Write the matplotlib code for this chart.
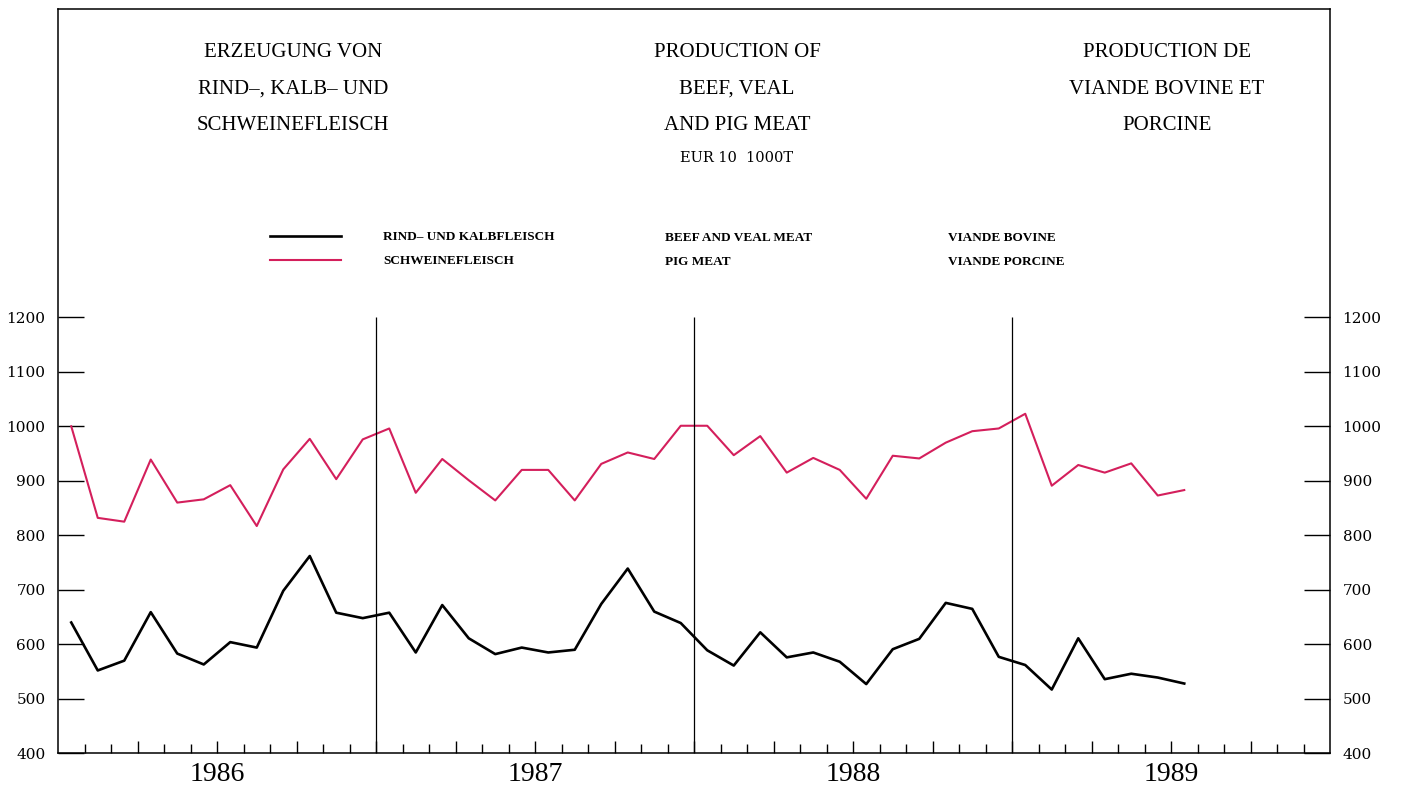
import numpy as np
import matplotlib
matplotlib.use("Agg")
import matplotlib.pyplot as plt
from matplotlib.lines import Line2D

# monthly production, EUR 10, 1000 t (Jan 1986 - Jul 1989)
pig_meat = [1000, 832, 825, 939, 860, 866, 892, 817, 921, 977, 903, 976,
            996, 878, 940, 901, 864, 920, 920, 864, 931, 952, 940, 1001,
            1001, 947, 982, 915, 942, 920, 867, 946, 941, 970, 991, 996,
            1023, 891, 929, 915, 932, 873, 883]
beef_veal = [640, 552, 570, 659, 583, 563, 604, 594, 698, 762, 658, 648,
             658, 585, 672, 611, 582, 594, 585, 590, 674, 739, 660, 639,
             589, 561, 622, 576, 585, 568, 527, 591, 610, 676, 665, 577,
             562, 517, 611, 536, 546, 539, 528]
years = ["1986", "1987", "1988", "1989"]
y_ticks = [400, 500, 600, 700, 800, 900, 1000, 1100, 1200]

pink = "#d41f5c"
W, H = 1403, 791

fig = plt.figure(figsize=(W / 100, H / 100), dpi=100)
ax = fig.add_axes([58 / W, 1 - 753.3 / H, (1330 - 58) / W, (753.3 - 9) / H])

months = np.arange(len(pig_meat)) + 0.5
ax.plot(months, beef_veal, color="black", lw=1.9)
ax.plot(months, pig_meat, color=pink, lw=1.5)

nmonths = 12 * len(years)
ax.set_xlim(0, nmonths)
ax.set_ylim(400, 1200 + (317.3 - 9) / 0.545)

# year separators
ax.vlines([12 * k for k in range(1, len(years))], 400, 1200, color="black", lw=0.9)

for s in ax.spines.values():
    s.set_linewidth(1.1)

ax.set_yticks(y_ticks)
ax.set_yticklabels([str(v) for v in y_ticks])
ax.tick_params(axis="y", direction="in", length=18.5, width=1.0, left=True, right=True,
               labelleft=True, labelright=True, pad=9, labelsize=11)
for lab in ax.get_yticklabels():
    lab.set_family("DejaVu Serif")

ax.set_xticks([q for q in range(3, nmonths, 3)])
ax.set_xticks(list(range(1, nmonths)), minor=True)
ax.set_xticklabels([])
ax.tick_params(axis="x", which="major", direction="in", length=9, width=1.0)
ax.tick_params(axis="x", which="minor", direction="in", length=6.2, width=1.0)

sec = ax.secondary_xaxis("bottom")
sec.set_xticks([12 * k + 6 for k in range(len(years))])
sec.set_xticklabels(years, family="Liberation Serif", fontsize=20)
sec.tick_params(length=0, pad=6)
sec.spines["bottom"].set_visible(False)

# titles
title_font = dict(family="Liberation Serif", fontsize=15, ha="center", va="baseline")
cols = [
    (293, ["ERZEUGUNG VON", "RIND\u2013, KALB\u2013 UND", "SCHWEINEFLEISCH"]),
    (737, ["PRODUCTION OF", "BEEF, VEAL", "AND PIG MEAT"]),
    (1167, ["PRODUCTION DE", "VIANDE BOVINE ET", "PORCINE"]),
]
baselines = [57, 93.5, 129.5]
for x, lines in cols:
    for yb, txt in zip(baselines, lines):
        fig.text(x / W, 1 - yb / H, txt, **title_font)
fig.text(737 / W, 1 - 162 / H, "EUR 10  1000T", family="DejaVu Serif", fontsize=10.5,
         ha="center", va="baseline")

# legend
leg_font = dict(family="Liberation Serif", weight="bold", size=9.5)
handles = [Line2D([], [], color="black", lw=1.9), Line2D([], [], color=pink, lw=1.5)]
ax.legend(handles, ["RIND\u2013 UND KALBFLEISCH", "SCHWEINEFLEISCH"],
          loc="upper left", bbox_to_anchor=(270 / W, 1 - 231 / H),
          bbox_transform=fig.transFigure, frameon=False, prop=leg_font,
          handlelength=5.4, handletextpad=3.2, labelspacing=0.9,
          borderpad=0, borderaxespad=0)
other_cols = [(665, ["BEEF AND VEAL MEAT", "PIG MEAT"]),
              (948, ["VIANDE BOVINE", "VIANDE PORCINE"])]
for x, lines in other_cols:
    for yb, txt in zip([241, 265], lines):
        fig.text(x / W, 1 - yb / H, txt, ha="left", va="baseline",
                 family="Liberation Serif", weight="bold", fontsize=9.5)

fig.savefig("out.png", dpi=100)
